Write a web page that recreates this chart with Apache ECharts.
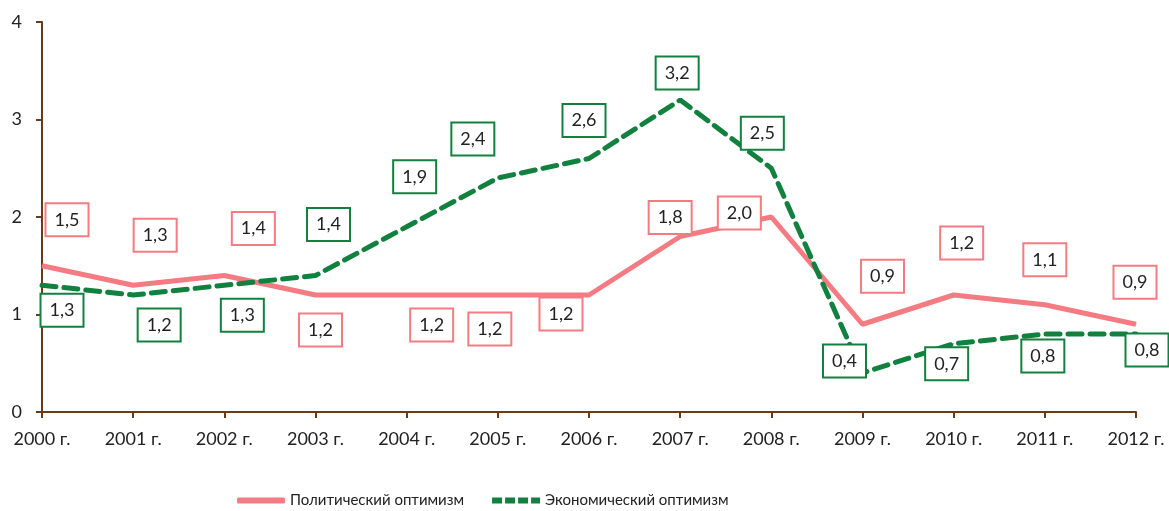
<!DOCTYPE html>
<html><head><meta charset="utf-8">
<script src="https://cdn.jsdelivr.net/npm/echarts@6/dist/echarts.min.js"></script>
<style>html,body{margin:0;padding:0;background:#fff}#c{width:1169px;height:511px}</style>
</head><body><div id="c"></div>
<script>
const categories = ['2000 г.','2001 г.','2002 г.','2003 г.','2004 г.','2005 г.','2006 г.','2007 г.','2008 г.','2009 г.','2010 г.','2011 г.','2012 г.'];
const political = [1.5,1.3,1.4,1.2,1.2,1.2,1.2,1.8,2.0,0.9,1.2,1.1,0.9];
const economic  = [1.3,1.2,1.3,1.4,1.9,2.4,2.6,3.2,2.5,0.4,0.7,0.8,0.8];
const seriesNames = ['Политический оптимизм','Экономический оптимизм'];

// label layout offsets (pixels, relative to each point)
const polOffsets = [[25,-46],[22,-50],[29,-47],[5,35],[25,30],[-8,34],[-28,19],[-10,-19],[-32,-4],[20,-48],[8,-52],[0,-45],[-1,-42]];
const ecoOffsets = [[20,25],[26,30],[18,30],[13,-51],[8,-50],[-25,-39],[-5,-38],[-3,-27],[-9,-35],[-18,-12],[-7,20],[-2,22],[11,16]];

const PINK = '#f47b82', GREEN = '#12803e', AXIS = '#6b3a17';
const FONT = 'Lato, "Open Sans", sans-serif';

function fmt(v){ return v.toFixed(1).replace('.', ','); }
function mk(vals, offs){
  return vals.map((v,i)=>({value:v, label:{offset:offs[i]}}));
}
function labelStyle(color){
  return {show:true, position:'inside', formatter:p=>fmt(p.value), color:'#222', fontFamily:FONT, fontSize:18,
    lineHeight:21, backgroundColor:'#fff', borderColor:color, borderWidth:2, padding:[5,8,5,8], width:25, align:'center'};
}
const dashIcon = 'path://M0,0h10v6h-10z M13,0h10v6h-10z M26,0h10v6h-10z M39,0h9v6h-9z';
const chart = echarts.init(document.getElementById('c'), null, {renderer:'canvas'});
chart.setOption({
  animation:false,
  grid:{left:42, right:33, top:22, bottom:99, containLabel:false},
  xAxis:{type:'category', data:categories, boundaryGap:false,
    axisLine:{lineStyle:{color:AXIS, width:2}},
    axisTick:{show:true, length:6, lineStyle:{color:AXIS, width:2}, alignWithLabel:true},
    axisLabel:{color:'#222', fontFamily:FONT, fontSize:18, margin:18, interval:0},
    splitLine:{show:false}},
  yAxis:{type:'value', min:0, max:4, interval:1,
    axisLine:{show:true, lineStyle:{color:AXIS, width:2}},
    axisTick:{show:true, length:6, lineStyle:{color:AXIS, width:2}},
    axisLabel:{color:'#222', fontFamily:FONT, fontSize:18, margin:20},
    splitLine:{show:false}},
  legend:{top:488, left:232, itemWidth:48, itemHeight:6, itemGap:28,
    textStyle:{color:'#222', fontFamily:FONT, fontSize:15},
    data:[{name:seriesNames[0], icon:'roundRect'},{name:seriesNames[1], icon:dashIcon}]},
  series:[
    {name:seriesNames[0], type:'line', data:mk(political, polOffsets), symbol:'circle', symbolSize:1,
      itemStyle:{color:PINK}, lineStyle:{color:PINK, width:5}, label:labelStyle(PINK), z:2},
    {name:seriesNames[1], type:'line', data:mk(economic, ecoOffsets), symbol:'circle', symbolSize:1,
      itemStyle:{color:GREEN}, lineStyle:{color:GREEN, width:5, type:[14,8], cap:'round'}, label:labelStyle(GREEN), z:3}
  ]
});
</script></body></html>
